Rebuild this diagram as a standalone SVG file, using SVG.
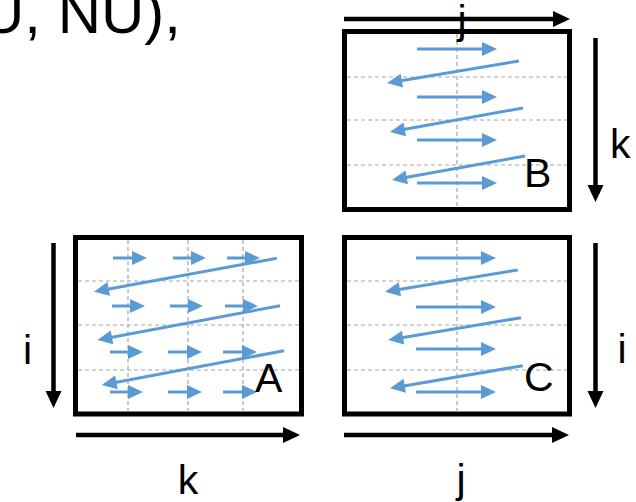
<svg xmlns="http://www.w3.org/2000/svg" width="636" height="502" viewBox="0 0 636 502">
<style>
.t{font-family:"Liberation Sans",Arial,sans-serif;fill:#000}
.lbl{font-size:41px}
.box{fill:#fff;stroke:#000;stroke-width:5}
.grid{stroke:#A6A6A6;stroke-width:1.2;stroke-dasharray:4 3;fill:none}
.blue{stroke:#5B9BD5;stroke-width:3;fill:none;marker-end:url(#bh)}
.ax{stroke:#000;stroke-width:4.5;fill:none;marker-end:url(#kh)}
</style>
<defs>
<marker id="bh" markerUnits="userSpaceOnUse" markerWidth="16" markerHeight="15" refX="4" refY="7" orient="auto" overflow="visible">
<path d="M0,0 L15,7 L0,14 z" fill="#5B9BD5"/>
</marker>
<marker id="kh" markerUnits="userSpaceOnUse" markerWidth="18" markerHeight="17" refX="5" refY="8" orient="auto" overflow="visible">
<path d="M0,0 L17,8 L0,16 z" fill="#000"/>
</marker>
</defs>
<rect width="636" height="502" fill="#fff"/>
<text class="t" x="-19" y="33" font-size="60">U, NU),</text>

<g id="B">
<rect class="box" x="344.5" y="31.5" width="225" height="178"/>
<path class="grid" d="M457,34V207M347,77H567M347,120H567M347,165H567"/>
<line class="blue" x1="417" y1="49" x2="486" y2="49"/>
<line class="blue" x1="519" y1="61" x2="397.9" y2="81.2"/>
<line class="blue" x1="417" y1="97" x2="486" y2="97"/>
<line class="blue" x1="523" y1="108" x2="400.8" y2="130"/>
<line class="blue" x1="417" y1="140" x2="486" y2="140"/>
<line class="blue" x1="525" y1="156" x2="402.8" y2="178"/>
<line class="blue" x1="417" y1="183" x2="486" y2="183"/>
<text class="t lbl" x="524" y="187">B</text>
</g>

<g id="A">
<rect class="box" x="75.5" y="237.5" width="226" height="176.5"/>
<path class="grid" d="M128,240V412M188,240V412M243,240V412M78,281H299M78,325H299M78,370H299"/>
<line class="blue" x1="113" y1="258" x2="136" y2="258"/>
<line class="blue" x1="173" y1="258" x2="195" y2="258"/>
<line class="blue" x1="227" y1="258" x2="249" y2="258"/>
<line class="blue" x1="276.7" y1="258.3" x2="104.8" y2="289.7"/>
<line class="blue" x1="112" y1="306" x2="134" y2="306"/>
<line class="blue" x1="170" y1="306" x2="192" y2="306"/>
<line class="blue" x1="225" y1="306" x2="247" y2="306"/>
<line class="blue" x1="280" y1="305.7" x2="108.1" y2="338"/>
<line class="blue" x1="110" y1="352" x2="132" y2="352"/>
<line class="blue" x1="168" y1="352" x2="191" y2="352"/>
<line class="blue" x1="223" y1="352" x2="246" y2="352"/>
<line class="blue" x1="284" y1="350.7" x2="112.5" y2="383"/>
<line class="blue" x1="110" y1="392" x2="132" y2="392"/>
<line class="blue" x1="168" y1="392" x2="191" y2="392"/>
<line class="blue" x1="223" y1="392" x2="246" y2="392"/>
<text class="t lbl" x="255" y="392">A</text>
</g>

<g id="C">
<rect class="box" x="344.5" y="237.5" width="225" height="176.5"/>
<path class="grid" d="M457,240V412M347,281H567M347,325H567M347,370H567"/>
<line class="blue" x1="416" y1="258" x2="485" y2="258"/>
<line class="blue" x1="517.7" y1="270" x2="395.9" y2="289.9"/>
<line class="blue" x1="416" y1="307" x2="485" y2="307"/>
<line class="blue" x1="521" y1="317.7" x2="399.1" y2="338.2"/>
<line class="blue" x1="416" y1="349" x2="485" y2="349"/>
<line class="blue" x1="522.7" y1="365.7" x2="400.8" y2="386.4"/>
<line class="blue" x1="416" y1="392" x2="485" y2="392"/>
<text class="t lbl" x="524" y="391">C</text>
</g>

<g id="connectors">
<line class="ax" x1="344" y1="19" x2="558" y2="19"/>
<line class="ax" x1="595.5" y1="38" x2="595.5" y2="190"/>
<line class="ax" x1="53.5" y1="243" x2="53.5" y2="396"/>
<line class="ax" x1="595.5" y1="243" x2="595.5" y2="396"/>
<line class="ax" x1="76" y1="435" x2="288" y2="435"/>
<line class="ax" x1="344" y1="435" x2="557" y2="435"/>
</g>

<g id="labels">
<text class="t lbl" x="462" y="34" text-anchor="middle">j</text>
<text class="t lbl" x="610" y="158">k</text>
<text class="t lbl" x="27.5" y="364" text-anchor="middle">i</text>
<text class="t lbl" x="622" y="363" text-anchor="middle">i</text>
<text class="t lbl" x="188" y="494" text-anchor="middle">k</text>
<text class="t lbl" x="461" y="493" text-anchor="middle">j</text>
</g>
</svg>
